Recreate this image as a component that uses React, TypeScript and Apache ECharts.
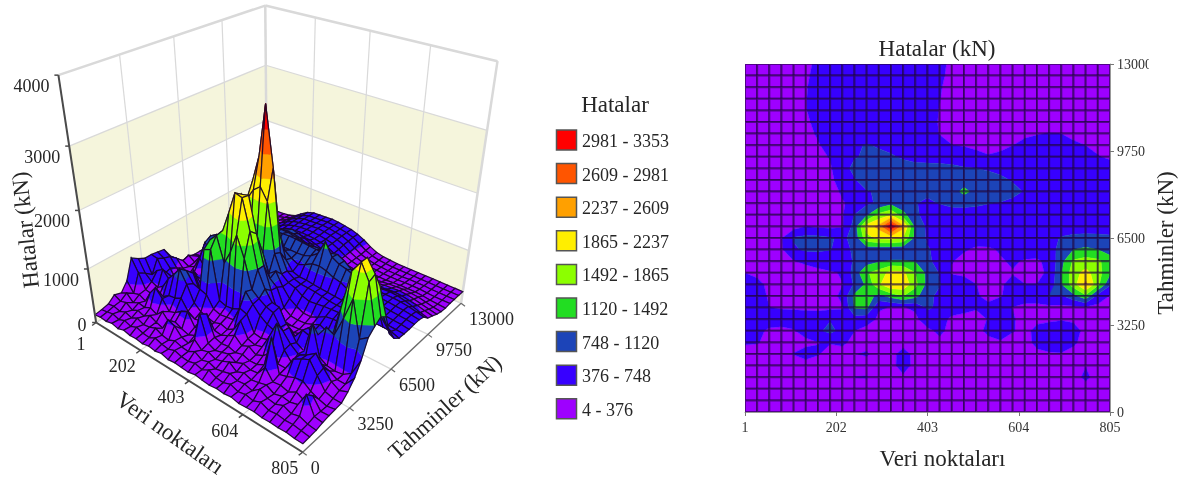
import React, { useEffect, useRef } from "react";
import * as echarts from "echarts";

const X_TICKS = [1, 202, 403, 604, 805];
const Y_TICKS = [0, 3250, 6500, 9750, 13000];
const Z_TICKS = [0, 1000, 2000, 3000, 4000];
const BAND_LIMITS = [4, 376, 748, 1120, 1492, 1865, 2237, 2609, 2981, 99999];
const BAND_COLORS = ["#9e00ff", "#3700ff", "#1c44b8", "#22dd22", "#8cff00", "#ffee00", "#ffa000", "#ff5500", "#ff0000"];
const LEGEND_LABELS = ["2981 - 3353", "2609 - 2981", "2237 - 2609", "1865 - 2237", "1492 - 1865", "1120 - 1492", "748 - 1120", "376 - 748", "4 - 376"];

// Node values, first row = Tahminler 13000, last row = 0; columns run from Veri noktaları 1 to 805.
const CONTOUR_ROWS = [
  [250,250,260,270,290,330,420,500,540,550,560,570,560,540,520,480,420,340,280,250,240,230,230,230,230,230,230,230,230,230,230],
  [250,250,260,270,300,350,430,500,540,550,560,570,560,540,520,480,410,330,280,250,240,230,230,230,230,230,230,230,230,230,230],
  [240,240,250,270,310,365,440,500,540,550,560,570,560,540,520,470,390,320,280,250,240,230,230,230,240,240,240,230,230,230,230],
  [230,230,250,270,320,370,440,500,530,550,560,570,560,540,510,460,380,320,280,260,250,240,240,240,250,250,250,240,230,230,230],
  [220,230,240,260,320,370,430,490,530,550,560,560,550,530,500,440,370,320,290,270,260,250,250,260,270,270,270,260,240,230,220],
  [220,220,240,260,310,350,420,480,520,550,560,560,550,530,500,430,365,320,300,280,280,280,290,310,320,330,320,310,280,250,230],
  [210,220,230,250,290,320,400,470,520,580,600,600,590,560,510,440,370,340,320,310,310,320,340,360,370,380,375,350,320,290,260],
  [210,220,230,240,260,290,360,440,560,720,760,730,690,640,590,520,430,378,360,345,340,350,375,400,420,430,420,395,375,340,310],
  [200,210,220,230,250,270,320,390,500,720,800,790,770,720,680,650,620,600,500,420,385,400,440,470,500,510,500,470,430,385,350],
  [190,200,210,220,240,260,290,340,600,850,880,880,860,840,820,830,840,820,780,750,700,650,600,560,540,540,540,530,510,480,450],
  [190,190,200,210,230,250,280,340,450,720,900,920,930,930,920,910,900,900,950,980,920,820,720,620,570,550,540,530,520,500,480],
  [180,190,190,200,210,230,260,310,400,560,730,780,790,790,790,800,850,950,1220,1000,930,900,850,720,600,560,540,520,510,500,480],
  [170,180,190,190,200,220,250,300,360,430,680,800,1000,850,760,700,760,830,850,820,760,730,660,590,560,540,520,510,500,490,470],
  [170,170,180,190,200,210,240,290,340,760,1050,1600,1850,1250,800,640,600,600,580,570,560,550,540,530,520,510,510,500,490,480,470],
  [170,170,180,190,230,370,320,300,340,900,2050,2350,3353,2350,1000,680,600,580,570,560,550,540,530,530,520,520,530,540,540,530,520],
  [180,190,210,350,780,850,850,780,680,860,1750,1950,2000,1850,1000,700,620,580,520,480,500,520,530,540,560,620,780,850,870,860,830],
  [170,190,210,330,700,800,800,760,640,800,900,860,830,820,800,780,640,480,400,340,340,400,480,500,500,620,850,1120,1180,1120,1000],
  [160,170,190,220,360,450,520,560,600,780,950,1080,1150,1150,1100,800,650,390,300,290,300,350,410,350,340,440,1000,1550,1650,1580,1250],
  [370,300,200,180,190,210,280,340,400,900,1450,1650,2000,1950,1500,1000,720,340,270,260,270,300,360,300,310,420,1100,1700,2000,1650,1180],
  [620,470,300,180,180,190,230,290,370,800,1200,1800,2230,2150,1600,1000,760,620,600,380,290,340,460,380,380,480,1100,1700,2350,1600,800],
  [650,500,340,170,170,180,210,260,450,1200,1300,1000,1250,1500,1250,800,700,640,600,400,320,360,470,520,560,760,700,1000,1400,600,360],
  [600,520,380,350,340,320,300,300,350,1150,1200,400,365,360,420,800,680,560,470,400,430,550,370,300,280,280,280,280,300,280,270],
  [600,450,480,520,540,540,560,720,520,580,500,330,300,290,310,560,520,300,280,280,390,560,400,290,300,320,350,330,280,260,250],
  [620,430,340,300,350,540,680,850,620,380,280,240,230,230,240,300,450,270,240,240,480,780,400,280,470,540,600,480,300,250,240],
  [420,400,280,230,220,280,370,400,430,300,240,220,210,210,220,240,300,230,210,210,250,280,240,250,470,540,590,430,260,230,220],
  [220,210,210,210,390,520,400,230,270,360,420,220,230,560,240,210,210,200,200,200,200,200,210,230,300,340,350,280,210,200,200],
  [190,190,190,190,200,220,200,190,190,200,210,190,200,620,210,190,190,190,190,190,190,190,190,190,190,190,190,190,360,200,190],
  [180,180,180,180,180,180,180,180,180,380,400,180,180,280,180,180,180,180,180,180,180,180,180,180,180,180,180,190,480,190,180],
  [170,170,170,170,170,170,170,170,170,170,170,170,170,170,170,170,170,170,170,170,170,170,170,170,170,170,170,170,190,170,170],
  [160,160,160,160,160,160,160,160,160,160,160,160,160,160,160,160,160,160,160,160,160,160,160,160,160,160,160,160,160,160,160],
  [150,150,150,150,150,150,150,150,150,150,150,150,150,150,150,150,150,150,150,150,150,150,150,150,150,150,150,150,150,150,150],
];

// The 3D surface shares the back rows of the contour map; its front rows are rougher.
const SURFACE_FRONT_ROWS = [
  [170,190,230,260,300,420,380,340,420,1000,2050,2500,3353,2400,1000,720,640,600,590,580,560,540,530,530,520,520,530,540,540,530,480],
  [200,260,300,430,820,900,780,860,700,900,1800,2000,2100,1900,1050,740,640,600,520,480,500,520,530,540,560,620,780,850,870,700,560],
  [190,340,260,430,760,620,900,700,680,860,920,880,830,900,760,860,640,480,400,340,340,400,480,500,500,620,850,1130,1150,1000,720],
  [230,300,240,300,520,340,620,480,760,780,1000,1180,1250,1300,1200,800,700,390,300,290,300,350,410,350,340,440,1000,1500,1650,1550,1100],
  [400,420,280,220,330,250,460,340,620,1000,1500,1900,2150,2180,1600,1100,720,360,280,260,270,300,380,300,310,460,1150,1750,2000,1800,1180],
  [600,520,360,240,260,420,300,520,380,1150,1500,1850,2230,2200,1700,1100,820,640,620,380,290,340,520,380,400,560,1150,1800,2000,1750,1100],
  [620,560,420,220,340,240,620,300,640,1350,1480,1050,1300,1650,1300,820,720,640,600,400,320,380,560,520,620,820,760,1100,1500,900,1000],
  [640,620,380,420,300,500,320,700,380,1250,1300,440,400,420,480,860,700,560,470,420,460,620,420,340,900,380,300,280,300,400,700],
  [640,380,520,600,460,640,520,820,640,600,560,360,320,340,360,640,600,320,300,340,420,640,480,380,420,360,420,380,300,300,480],
  [700,480,380,330,420,620,760,920,700,420,320,280,250,300,260,340,560,300,260,300,560,860,460,300,520,600,700,520,360,280,340],
  [780,560,300,280,240,360,440,460,520,340,260,300,240,260,240,300,380,260,320,240,300,420,300,300,540,620,680,480,280,240,240],
  [420,240,280,220,440,600,460,280,330,420,480,260,300,640,280,240,260,220,260,220,230,300,850,280,320,380,400,300,240,200,230],
  [260,320,200,260,240,300,240,360,220,300,240,200,260,720,260,200,240,280,200,260,220,240,420,240,260,220,300,230,400,210,220],
  [300,240,280,200,260,220,300,240,200,420,380,240,200,340,220,260,200,240,300,200,260,210,240,280,200,240,220,260,520,220,200],
  [200,220,190,240,200,260,210,230,280,220,200,260,220,210,280,200,240,190,220,260,210,230,190,300,220,200,260,200,240,190,170],
  [170,190,220,180,230,190,240,200,190,250,210,190,240,200,190,230,190,260,200,190,240,190,220,190,250,190,210,190,200,180,160],
  [150,170,160,190,160,200,170,180,160,190,170,200,160,180,170,160,190,170,160,180,170,190,160,170,180,160,170,160,170,150,150],
];
const SURFACE_ROWS = CONTOUR_ROWS.slice(0, 14).concat(SURFACE_FRONT_ROWS);

const SERIF = "'Liberation Serif', 'Times New Roman', serif";
const X_RANGE: [number, number] = [1, 805];
const Y_RANGE: [number, number] = [0, 13000];
const Z_RANGE: [number, number] = [0, 4000];
const CELLS = 30;

// Projective camera fitted to where seven corners of the 3D box fall on the page.
const BOX_CORNERS: number[][] = [
  [0, 0, 0, 97, 322], [1, 0, 0, 302, 453], [1, 1, 0, 462, 302], [0, 1, 0, 266, 220],
  [0, 0, 1, 58, 75], [0, 1, 1, 266, 5], [1, 1, 1, 497, 62],
];
function solveCamera(): number[] {
  const rows: number[][] = [];
  BOX_CORNERS.forEach(([u, v, w, sx, sy]) => {
    rows.push([u, v, w, 1, 0, 0, 0, 0, -sx * u, -sx * v, -sx * w, sx]);
    rows.push([0, 0, 0, 0, u, v, w, 1, -sy * u, -sy * v, -sy * w, sy]);
  });
  const n = 11;
  const m: number[][] = [];
  for (let a = 0; a < n; a++) {
    const r: number[] = [];
    for (let b = 0; b <= n; b++) {
      let s = 0;
      rows.forEach((row) => (s += row[a] * row[b]));
      r.push(s);
    }
    m.push(r);
  }
  for (let c = 0; c < n; c++) {
    let p = c;
    for (let r = c + 1; r < n; r++) if (Math.abs(m[r][c]) > Math.abs(m[p][c])) p = r;
    [m[c], m[p]] = [m[p], m[c]];
    for (let r = 0; r < n; r++) {
      if (r === c) continue;
      const f = m[r][c] / m[c][c];
      for (let k = c; k <= n; k++) m[r][k] -= f * m[c][k];
    }
  }
  return m.map((r, i) => r[n] / r[i]);
}
const CAM = solveCamera();
function project(x: number, y: number, z: number): number[] {
  const u = echarts.number.linearMap(x, X_RANGE, [0, 1]);
  const v = echarts.number.linearMap(y, Y_RANGE, [0, 1]);
  const w = echarts.number.linearMap(z, Z_RANGE, [0, 1]);
  const d = CAM[8] * u + CAM[9] * v + CAM[10] * w + 1;
  return [
    (CAM[0] * u + CAM[1] * v + CAM[2] * w + CAM[3]) / d,
    (CAM[4] * u + CAM[5] * v + CAM[6] * w + CAM[7]) / d,
  ];
}

// Clips a polygon of [x, y, z] vertices to the z range lo..hi.
function clipBand(poly: number[][], lo: number, hi: number): number[][] {
  const clip = (pts: number[][], limit: number, keepAbove: boolean) => {
    const out: number[][] = [];
    pts.forEach((a, i) => {
      const b = pts[(i + 1) % pts.length];
      const ina = keepAbove ? a[2] >= limit : a[2] <= limit;
      const inb = keepAbove ? b[2] >= limit : b[2] <= limit;
      if (ina) out.push(a);
      if (ina !== inb) {
        const t = (limit - a[2]) / (b[2] - a[2]);
        out.push([a[0] + t * (b[0] - a[0]), a[1] + t * (b[1] - a[1]), limit]);
      }
    });
    return out;
  };
  const first = clip(poly, lo, true);
  return first.length ? clip(first, hi, false) : first;
}

const nodeX = (i: number) => X_RANGE[0] + (i * (X_RANGE[1] - X_RANGE[0])) / CELLS;
const nodeY = (j: number) => Y_RANGE[1] - (j * (Y_RANGE[1] - Y_RANGE[0])) / CELLS;

function buildCells(rows: number[][], painterOrder: boolean) {
  const cells: number[][] = [];
  for (let j = 0; j < CELLS; j++) {
    for (let i = 0; i < CELLS; i++) {
      cells.push([nodeX(i), nodeY(j), nodeX(i + 1), nodeY(j + 1), rows[j + 1][i], rows[j + 1][i + 1], rows[j][i + 1], rows[j][i], i + j]);
    }
  }
  if (painterOrder) cells.sort((a, b) => a[8] - b[8]);
  return cells;
}

function cellQuad(api: any): number[][] {
  const x0 = api.value(0), y1 = api.value(1), x1 = api.value(2), y0 = api.value(3);
  return [[x0, y0, api.value(4)], [x1, y0, api.value(5)], [x1, y1, api.value(6)], [x0, y1, api.value(7)]];
}

function drawCell(quad: number[][], toPage: (p: number[]) => number[], mesh: string, meshWidth: number) {
  const children: any[] = [];
  BAND_COLORS.forEach((color, b) => {
    const part = clipBand(quad, BAND_LIMITS[b], BAND_LIMITS[b + 1]);
    if (part.length >= 3) {
      children.push({
        type: "polygon",
        shape: { points: part.map(toPage) },
        style: { fill: color, stroke: color, lineWidth: 0.4 },
      });
    }
  });
  children.push({
    type: "polygon",
    shape: { points: quad.map(toPage) },
    style: { fill: "none", stroke: mesh, lineWidth: meshWidth },
  });
  return { type: "group", children };
}

function line3d(a: number[], b: number[], stroke: string, lineWidth: number, z = 1) {
  const p = project(a[0], a[1], a[2]);
  const q = project(b[0], b[1], b[2]);
  return { type: "line", z, shape: { x1: p[0], y1: p[1], x2: q[0], y2: q[1] }, style: { stroke, lineWidth } };
}
function wall(a: number[], b: number[], zLo: number, zHi: number, fill: string) {
  const pts = [project(a[0], a[1], zLo), project(b[0], b[1], zLo), project(b[0], b[1], zHi), project(a[0], a[1], zHi)];
  return { type: "polygon", z: 0, shape: { points: pts }, style: { fill } };
}
function label(text: string, x: number, y: number, size: number, align = "center", rotation = 0) {
  return {
    type: "text", z: 5, x, y, rotation,
    style: { text, fontFamily: SERIF, fontSize: size, fill: "#262626", align, verticalAlign: "middle" },
  };
}

function buildGraphics() {
  const els: any[] = [];
  const [x0, x1] = X_RANGE;
  const [y0, y1] = Y_RANGE;
  const [, zTop] = Z_RANGE;
  // Wall bands
  const cream = "#f5f5dc";
  [0, 2].forEach((k) => {
    els.push(wall([x0, y0], [x0, y1], Z_TICKS[k], Z_TICKS[k + 1], cream));
    els.push(wall([x0, y1], [x1, y1], Z_TICKS[k], Z_TICKS[k + 1], cream));
  });
  const grid = "#d9d9d9";
  Z_TICKS.forEach((z) => {
    els.push(line3d([x0, y0, z], [x0, y1, z], grid, z === zTop ? 2.5 : 1.2));
    els.push(line3d([x0, y1, z], [x1, y1, z], grid, z === zTop ? 2.5 : 1.2));
  });
  Y_TICKS.forEach((y) => {
    els.push(line3d([x0, y, 0], [x0, y, zTop], grid, y === y1 ? 2.5 : 1.2));
    els.push(line3d([x0, y, 0], [x1, y, 0], grid, 1.2));
  });
  X_TICKS.forEach((x) => {
    els.push(line3d([x, y1, 0], [x, y1, zTop], grid, x === x1 ? 2.5 : 1.2));
    els.push(line3d([x, y0, 0], [x, y1, 0], grid, 1.2));
  });
  // Axes
  els.push(line3d([x0, y0, 0], [x0, y0, zTop], "#4a4a4a", 2, 3));
  els.push(line3d([x0, y0, 0], [x1, y0, 0], "#4a4a4a", 2, 3));
  els.push(line3d([x1, y0, 0], [x1, y1, 0], "#6a6a6a", 1.2, 3));
  Z_TICKS.forEach((z) => {
    const p = project(x0, y0, z);
    els.push({ type: "line", z: 3, shape: { x1: p[0] - 4, y1: p[1], x2: p[0], y2: p[1] }, style: { stroke: "#4a4a4a", lineWidth: 1.5 } });
    els.push(label(String(z), p[0] - 27 + (z === 0 ? 13 : 0), p[1] + (z === 0 ? 2 : 11), 18));
  });
  X_TICKS.forEach((x) => {
    const p = project(x, y0, 0);
    els.push({ type: "line", z: 3, shape: { x1: p[0], y1: p[1], x2: p[0] - 4, y2: p[1] + 3 }, style: { stroke: "#4a4a4a", lineWidth: 1.5 } });
    els.push(label(String(x), p[0] - 18 + (x === x0 ? 3 : 0), p[1] + (x === x0 ? 21 : 16), 18));
  });
  Y_TICKS.forEach((y) => {
    const p = project(x1, y, 0);
    els.push({ type: "line", z: 3, shape: { x1: p[0], y1: p[1], x2: p[0] + 4, y2: p[1] + 3 }, style: { stroke: "#6a6a6a", lineWidth: 1.2 } });
    els.push(label(String(y), p[0] + 8, p[1] + 16, 18, "left"));
  });
  els.push(label("Veri noktaları", 170, 433, 23, "center", (-35 * Math.PI) / 180));
  els.push(label("Tahminler (kN)", 445, 407, 23, "center", (42 * Math.PI) / 180));
  els.push(label("Hatalar (kN)", 25, 230, 23, "center", (96 * Math.PI) / 180));
  // Legend
  els.push(label("Hatalar", 615, 104, 23));
  const legendColors = BAND_COLORS.slice().reverse();
  LEGEND_LABELS.forEach((t, k) => {
    const cy = 140 + k * 33.6;
    els.push({ type: "rect", z: 5, shape: { x: 556.5, y: cy - 10, width: 20, height: 20 }, style: { fill: legendColors[k], stroke: "#555", lineWidth: 1.5 } });
    els.push(label(t, 582, cy + 1, 18, "left"));
  });
  // The reference cuts off the last digit of the top tick label.
  els.push({ type: "rect", z: 20, shape: { x: 1149, y: 52, width: 14, height: 24 }, style: { fill: "#fff" } });
  return els;
}

export default function App() {
  const ref = useRef<HTMLDivElement>(null);
  useEffect(() => {
    const chart = echarts.init(ref.current!, null, { renderer: "svg" });
    const axisText = { fontFamily: SERIF, fontSize: 14, color: "#333" };
    const nameText = { fontFamily: SERIF, fontSize: 23, color: "#262626" };
    chart.setOption({
      animation: false,
      backgroundColor: "#fff",
      title: {
        text: "Hatalar (kN)",
        left: 932,
        top: 32,
        textAlign: "center",
        textStyle: { fontFamily: SERIF, fontSize: 23, fontWeight: "normal", color: "#262626" },
      },
      grid: { left: 745, top: 64, width: 365, height: 348, outerBoundsMode: "none" },
      xAxis: {
        type: "value",
        min: X_RANGE[0],
        max: X_RANGE[1],
        name: "Veri noktaları",
        nameLocation: "middle",
        nameGap: 35,
        nameMoveOverlap: false,
        nameTextStyle: { ...nameText, padding: [0, 0, 0, 30] },
        splitLine: { show: false },
        axisLine: { lineStyle: { color: "#999" } },
        axisTick: { length: 4, lineStyle: { color: "#777" }, customValues: X_TICKS },
        axisLabel: { ...axisText, margin: 8, customValues: X_TICKS, hideOverlap: false, formatter: (v: number) => String(v) },
      },
      yAxis: {
        type: "value",
        position: "right",
        min: Y_RANGE[0],
        max: Y_RANGE[1],
        interval: 3250,
        name: "Tahminler (kN)",
        nameLocation: "middle",
        nameGap: 44,
        nameRotate: 90,
        nameMoveOverlap: false,
        nameTextStyle: { ...nameText, padding: [0, 10, 0, 0] },
        splitLine: { show: false },
        axisLine: { show: true, lineStyle: { color: "#999" } },
        axisTick: { show: true, length: 4, lineStyle: { color: "#777" } },
        axisLabel: { ...axisText, margin: 7, align: "left", formatter: (v: number) => String(v) },
      },
      graphic: { elements: buildGraphics() },
      series: [
        {
          type: "custom",
          name: "Yüzey",
          coordinateSystem: "none",
          silent: true,
          z: 2,
          progressive: 0,
          data: buildCells(SURFACE_ROWS, true),
          renderItem: (_p: any, api: any) =>
            drawCell(cellQuad(api), (q) => project(q[0], q[1], q[2]), "rgba(24,6,40,0.92)", 1.2),
        },
        {
          type: "custom",
          name: "Kontur",
          coordinateSystem: "cartesian2d",
          silent: true,
          z: 2,
          progressive: 0,
          clip: true,
          data: buildCells(CONTOUR_ROWS, false),
          encode: { x: [0, 2], y: [1, 3] },
          renderItem: (_p: any, api: any) =>
            drawCell(cellQuad(api), (q) => api.coord([q[0], q[1]]), "rgba(30,5,60,0.6)", 2),
        },
      ],
    });
    return () => chart.dispose();
  }, []);
  return (
    <div
      ref={ref}
      style={{ position: "fixed", left: 0, top: 0, width: 1184, height: 481, filter: "blur(0.5px)" }}
    />
  );
}
